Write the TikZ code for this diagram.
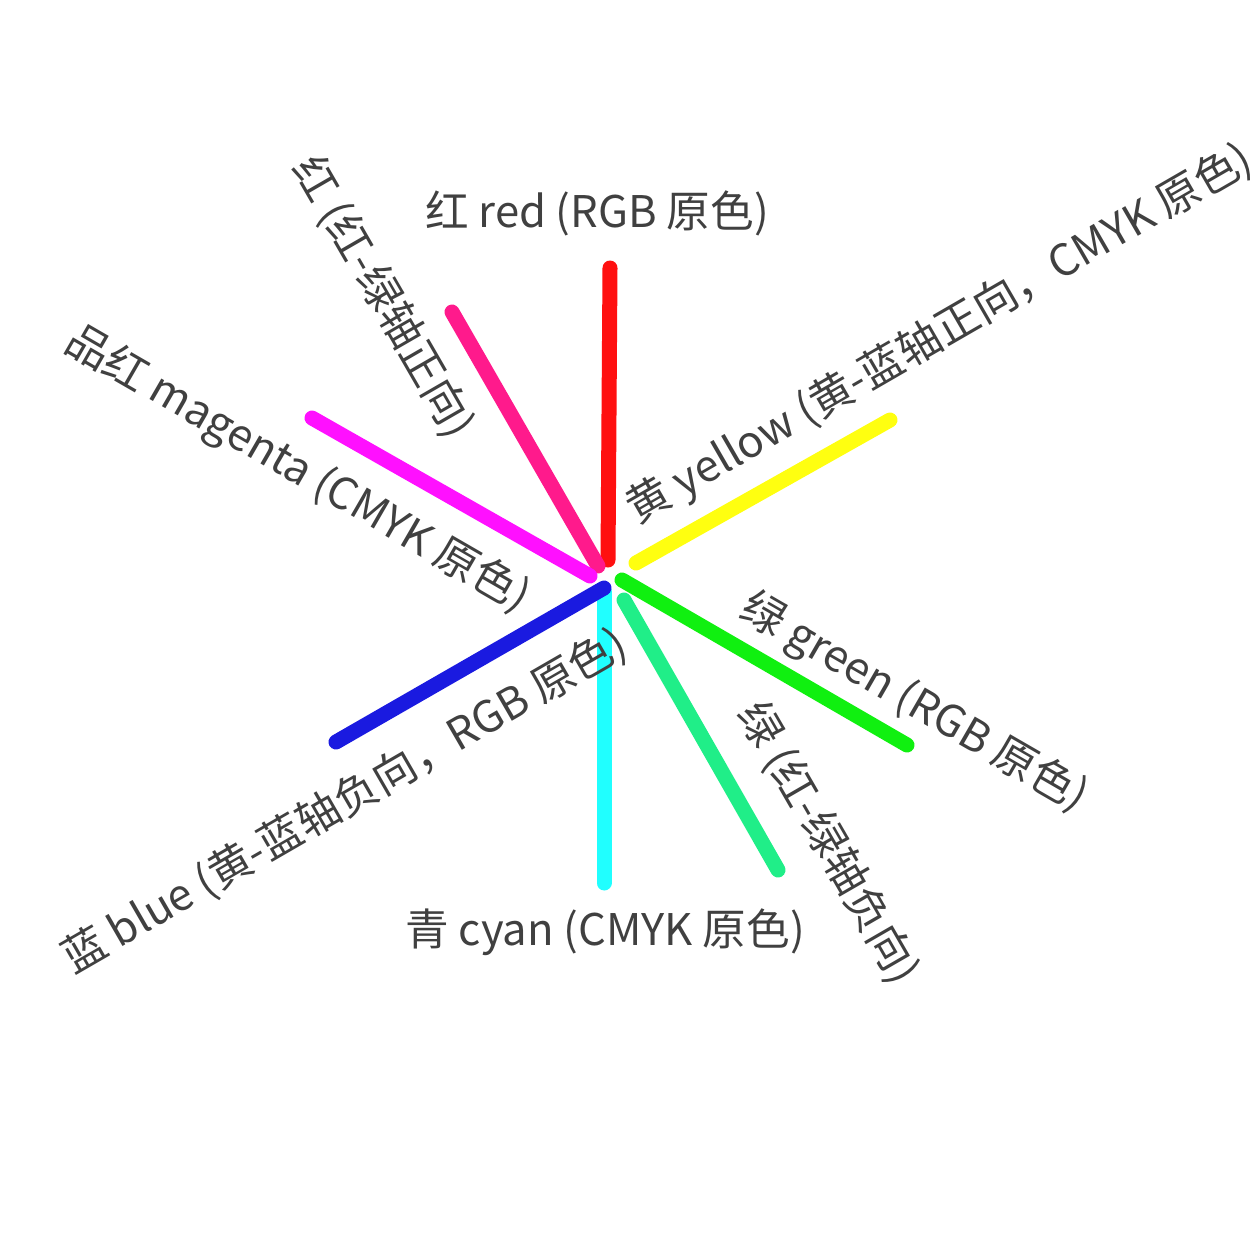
\documentclass[tikz,border=0pt]{standalone}
\usepackage{fontspec}
\setmainfont{Noto Sans CJK SC}
\usepackage{tikz}
\usetikzlibrary{positioning}

\definecolor{txtgray}{HTML}{404040}
\definecolor{rayred}{HTML}{FF1010}
\definecolor{raypink}{HTML}{FF1A8C}
\definecolor{raymag}{HTML}{FF10FF}
\definecolor{rayyel}{HTML}{FFFF10}
\definecolor{raygrn}{HTML}{10F010}
\definecolor{rayspr}{HTML}{20EE88}
\definecolor{raycyn}{HTML}{20FFFF}
\definecolor{rayblu}{HTML}{1A1AE0}

\begin{document}
\begin{tikzpicture}[x=0.01cm, y=-0.01cm,
        ray/.style={line width=0.15cm, line cap=round},
        lbl/.style={inner sep=0pt, text=txtgray, font=\fontsize{12.4}{15}\selectfont}
    ]
    \useasboundingbox (0,0) rectangle (1260,1260);

    %% ---- centre ----
    \coordinate (o) at (605,578);

    %% ---- ray ends ----
    \coordinate (redA) at (608,560);  \coordinate (redB) at (610,268);
    \coordinate (pinkA) at (598,566); \coordinate (pinkB) at (452,312);
    \coordinate (magA) at (590,576);  \coordinate (magB) at (312,418);
    \coordinate (yelA) at (636,563);  \coordinate (yelB) at (890,420);
    \coordinate (grnA) at (622,580);  \coordinate (grnB) at (907,745);
    \coordinate (sprA) at (624,600);  \coordinate (sprB) at (778,870);
    \coordinate (cynA) at (604,592);  \coordinate (cynB) at (604,883);
    \coordinate (bluA) at (604,588);  \coordinate (bluB) at (336,742);

    %% ---- rays ----
    \draw[ray, rayred]  (redA) -- (redB);
    \draw[ray, raypink] (pinkA) -- (pinkB);
    \draw[ray, raymag]  (magA) -- (magB);
    \draw[ray, rayyel]  (yelA) -- (yelB);
    \draw[ray, raygrn]  (grnA) -- (grnB);
    \draw[ray, rayspr]  (sprA) -- (sprB);
    \draw[ray, raycyn]  (cynA) -- (cynB);
    \draw[ray, rayblu]  (bluA) -- (bluB);

    %% ---- labels ----
    \node[lbl] (redL) at (597,213) {红 red (RGB 原色)};
    \node[lbl, rotate=-60] (pinkL) at (383,297) {红 (红-绿轴正向)};
    \node[lbl, rotate=-30] (magL) at (297,470) {品红 magenta (CMYK 原色)};
    \node[lbl, rotate=30] (yelL) at (940,335) {黄 yellow (黄-蓝轴正向，CMYK 原色)};
    \node[lbl, rotate=-30] (grnL) at (914,703) {绿 green (RGB 原色)};
    \node[lbl, rotate=-60] (sprL) at (828,843) {绿 (红-绿轴负向)};
    \node[lbl] (cynL) at (605,932) {青 cyan (CMYK 原色)};
    \node[lbl, rotate=30] (bluL) at (345,802) {蓝 blue (黄-蓝轴负向，RGB 原色)};

\end{tikzpicture}
\end{document}
